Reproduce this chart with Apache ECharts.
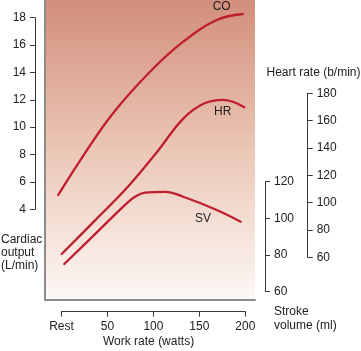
<!DOCTYPE html>
<html>
<head>
<meta charset="utf-8">
<script src="https://cdn.jsdelivr.net/npm/echarts@6/dist/echarts.min.js"></script>
<style>
html,body{margin:0;padding:0;background:#fff;}
#c{width:361px;height:351px;}
</style>
</head>
<body>
<div id="c"></div>
<script>
// ---- data ----
const xTickValues = [0, 50, 100, 150, 200];
const xTickLabels = ['Rest', '50', '100', '150', '200'];
const coTicks = [4, 6, 8, 10, 12, 14, 16, 18];
const hrTicks = [60, 80, 100, 120, 140, 160, 180];
const svTicks = [60, 80, 100, 120];

// [work rate (W), value]
const coData = [[-3.5, 5.05], [18.3, 7.36], [54.6, 10.89], [96.3, 14.05], [132.5, 16.25], [168.9, 17.83], [197.2, 18.27]];
const hrData = [[0.2, 62.4], [36.5, 87.0], [72.7, 112.0], [105.0, 138.0], [132.5, 161.5], [155.0, 172.5], [176.0, 175.2], [198.9, 169.8]];
const svData = [[3.0, 75.1], [36.5, 91.4], [70.9, 108.2], [80.0, 111.8], [90.9, 114.0], [112.6, 114.5], [132.5, 111.8], [168.9, 104.6], [195.0, 98.2]];

const seriesNames = ['CO', 'HR', 'SV'];
const labelPoints = [[174.3, 18.78], [175.4, 166.3], [154.0, 99.8]];

// ---- layout ----
const FONT = 'Liberation Sans, Arial, Helvetica, sans-serif';
const TXT = '#222';
const AXC = '#3a3a3a';
const FRAME = '#8c8c8c';
const LINE = '#bf1e2d';

const plot = {left: 45, top: 0, width: 210, height: 300};
const xAx = {p0: 61.5, p1: 245.3, y: 311.7};           // Rest .. 200
const coAx = {x: 35, top: 17.7, bottom: 209.3};          // 18 .. 4
const svAx = {x: 265, top: 181.7, bottom: 291.7};        // 120 .. 60
const hrAx = {x: 307.7, top: 93.3, bottom: 257.3};       // 180 .. 60

function extend(p0, v0, p1, v1, q0, q1) {
  const k = (v1 - v0) / (p1 - p0);
  return [v0 + (q0 - p0) * k, v0 + (q1 - p0) * k];
}
const xr = extend(xAx.p0, 0, xAx.p1, 200, plot.left, plot.left + plot.width);
const cor = extend(coAx.bottom, 4, coAx.top, 18, plot.top + plot.height, plot.top);
const hrr = extend(hrAx.bottom, 60, hrAx.top, 180, plot.top + plot.height, plot.top);
const svr = extend(svAx.bottom, 60, svAx.top, 120, plot.top + plot.height, plot.top);

const labelStyle = {color: TXT, fontFamily: FONT, fontSize: 12};

function visibleY(grid, min, max, position) {
  return {
    type: 'value', gridIndex: grid, min: min, max: max, interval: 20, position: position,
    splitLine: {show: false},
    axisLine: {show: true, onZero: false, lineStyle: {color: AXC, width: 1}},
    axisTick: {show: true, length: 5, lineStyle: {color: AXC, width: 1}},
    axisLabel: Object.assign({margin: 9}, labelStyle)
  };
}
function hiddenAxis(type, grid, min, max) {
  return {type: type, gridIndex: grid, min: min, max: max, show: false, splitLine: {show: false}};
}

const chart = echarts.init(document.getElementById('c'), null, {renderer: 'canvas'});

const grids = [
  {left: plot.left, top: plot.top, width: plot.width, height: plot.height, show: true, borderWidth: 0,
   backgroundColor: {type: 'linear', x: 0, y: 0, x2: 0, y2: 1,
     colorStops: [{offset: 0, color: '#d38e7c'}, {offset: 0.5, color: '#ebc7b6'}, {offset: 1, color: '#fdf8f6'}]}},
  {left: coAx.x, top: coAx.top, width: 10, height: coAx.bottom - coAx.top},
  {left: xAx.p0, width: xAx.p1 - xAx.p0, top: xAx.y - 10, height: 10},
  {left: svAx.x - 10, width: 10, top: svAx.top, height: svAx.bottom - svAx.top},
  {left: hrAx.x - 10, width: 10, top: hrAx.top, height: hrAx.bottom - hrAx.top}
].map(g => Object.assign({containLabel: false, outerBoundsMode: 'none'}, g));

const option = {
  animation: false,
  backgroundColor: '#fff',
  grid: grids,
  xAxis: [
    {type: 'value', gridIndex: 0, min: xr[0], max: xr[1], position: 'bottom',
     splitLine: {show: false}, axisTick: {show: false}, axisLabel: {show: false},
     axisLine: {show: true, onZero: false, lineStyle: {color: FRAME, width: 2}}},
    hiddenAxis('value', 1, 0, 1),
    {type: 'value', gridIndex: 2, min: 0, max: 200, interval: 50, position: 'bottom',
     splitLine: {show: false},
     axisLine: {show: true, onZero: false, lineStyle: {color: AXC, width: 1}},
     axisTick: {show: true, length: 5, lineStyle: {color: AXC, width: 1}},
     axisLabel: Object.assign({margin: 9, formatter: v => {
       const i = xTickValues.indexOf(v); return i >= 0 ? xTickLabels[i] : '';
     }}, labelStyle)},
    hiddenAxis('value', 3, 0, 1),
    hiddenAxis('value', 4, 0, 1)
  ],
  yAxis: [
    {type: 'value', gridIndex: 0, min: cor[0], max: cor[1], position: 'left',
     splitLine: {show: false}, axisTick: {show: false}, axisLabel: {show: false},
     axisLine: {show: true, onZero: false, lineStyle: {color: FRAME, width: 2}}},
    hiddenAxis('value', 0, hrr[0], hrr[1]),
    hiddenAxis('value', 0, svr[0], svr[1]),
    Object.assign(visibleY(1, coTicks[0], coTicks[coTicks.length - 1], 'left'), {interval: 2}),
    hiddenAxis('value', 2, 0, 1),
    visibleY(3, svTicks[0], svTicks[svTicks.length - 1], 'right'),
    visibleY(4, hrTicks[0], hrTicks[hrTicks.length - 1], 'right')
  ],
  series: [coData, hrData, svData].map((d, i) => ({
    type: 'line', name: seriesNames[i], xAxisIndex: 0, yAxisIndex: i,
    data: d, smooth: 0.4, showSymbol: false, symbol: 'none',
    lineStyle: {color: LINE, width: 2.3, cap: 'round'},
    markPoint: {
      symbol: 'circle', symbolSize: 1, itemStyle: {color: 'rgba(0,0,0,0)'},
      label: Object.assign({show: true, position: 'inside', formatter: seriesNames[i]}, labelStyle),
      data: [{coord: labelPoints[i], name: seriesNames[i]}]
    }
  })),
  graphic: [
    {type: 'text', left: 1, top: 233, style: {text: 'Cardiac\noutput\n(L/min)', fill: TXT, font: '12px ' + FONT, lineHeight: 13}},
    {type: 'text', left: 266.5, top: 67, style: {text: 'Heart rate (b/min)', fill: TXT, font: '12px ' + FONT}},
    {type: 'text', left: 274, top: 305, style: {text: 'Stroke\nvolume (ml)', fill: TXT, font: '12px ' + FONT, lineHeight: 13.5}},
    {type: 'text', left: 103, top: 336, style: {text: 'Work rate (watts)', fill: TXT, font: '12px ' + FONT}}
  ]
};
chart.setOption(option);
</script>
</body>
</html>
